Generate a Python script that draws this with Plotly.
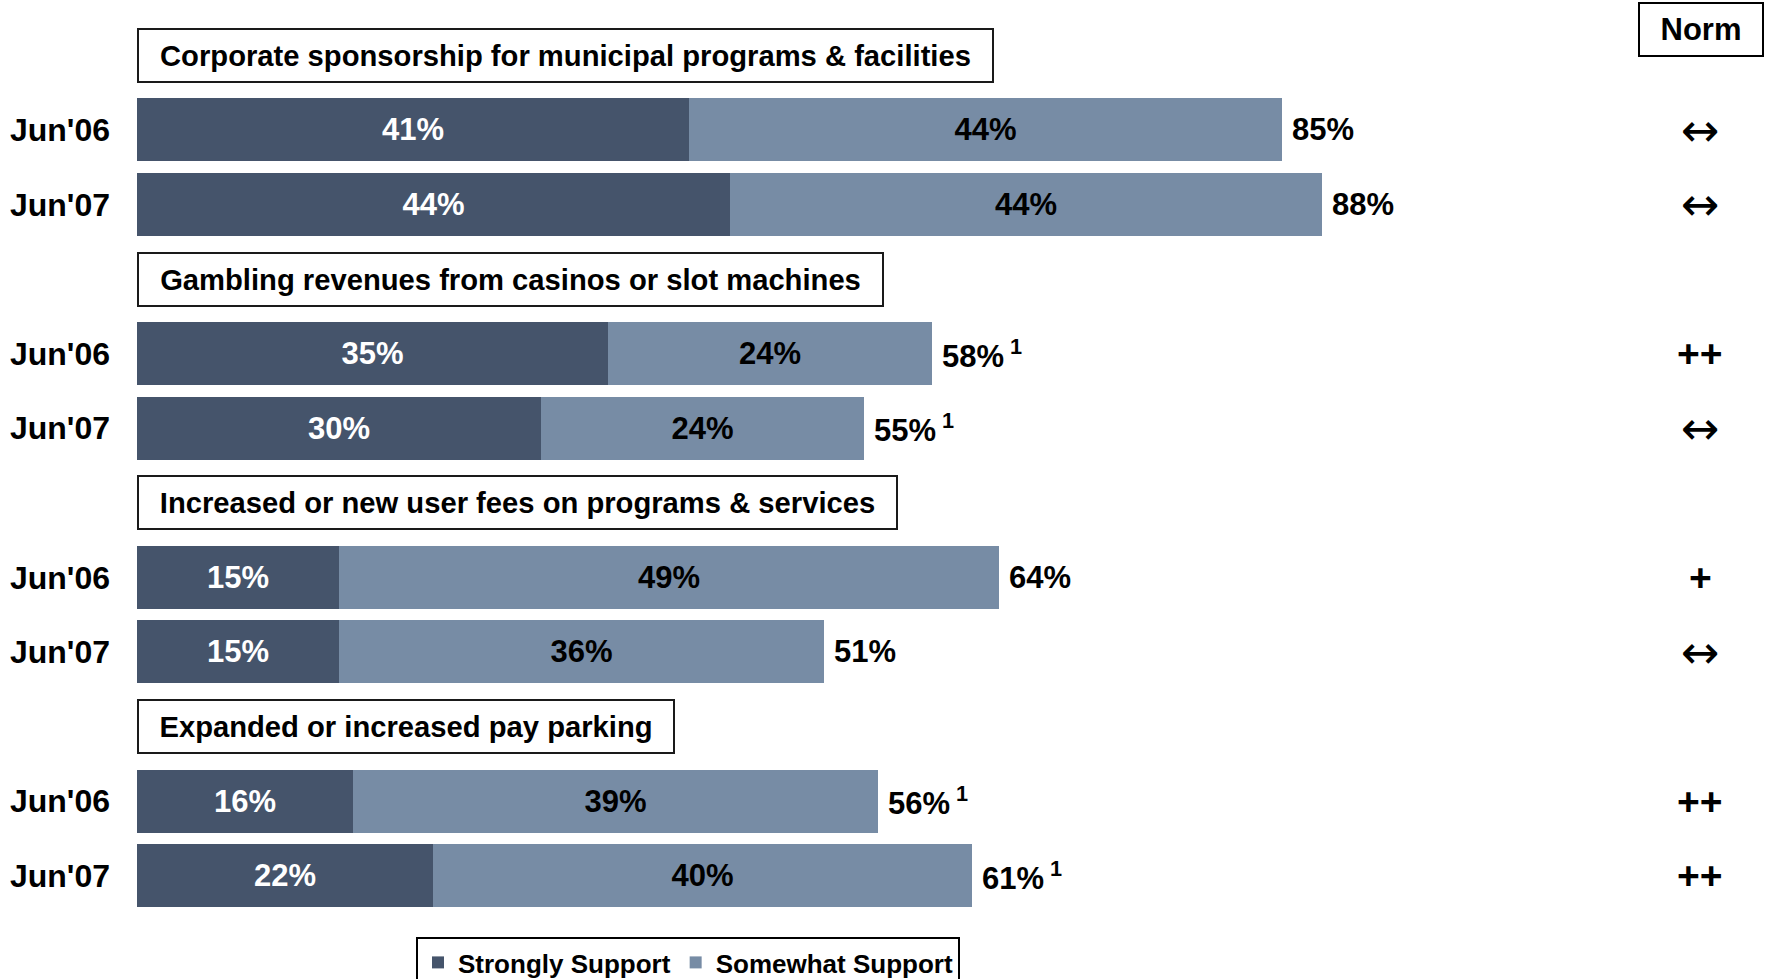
import plotly.graph_objects as go

# ---------------- data ----------------
categories = [
    "Corporate sponsorship for municipal programs & facilities",
    "Gambling revenues from casinos or slot machines",
    "Increased or new user fees on programs & services",
    "Expanded or increased pay parking",
]
periods = ["Jun'06", "Jun'07"]
strongly = [41, 44, 35, 30, 15, 15, 16, 22]
somewhat = [44, 44, 24, 24, 49, 36, 39, 40]
totals = [85, 88, 58, 55, 64, 51, 56, 61]
footnote = ["", "", "1", "1", "", "", "1", "1"]
norm = ["↔", "↔", "++", "↔", "+", "↔", "++", "++"]

# ---------------- layout constants ----------------
W, H = 1766, 979
PLOT_L, PLOT_T = 137, 18
PLOT_W, PLOT_H = W - PLOT_L, 895
PX_PER_PCT = 13.47
DARK = "#45546B"
LIGHT = "#778CA5"
FONT = "Arial, Liberation Sans, sans-serif"
BOX_W = [855, 745, 759, 536]
BOX_H = 53


def px_x(px):
    return (px - PLOT_L) / PLOT_W


def px_y(py):
    return (PLOT_T + PLOT_H - py) / PLOT_H


# slot positions: each category occupies 3 slots (title + 2 bars)
bar_y = [3 * g + 1 + j for g in range(len(categories)) for j in range(len(periods))]
tick_text = [periods[j] for g in range(len(categories)) for j in range(len(periods))]

fig = go.Figure()
fig.add_trace(go.Bar(
    name="Strongly Support", orientation="h", y=bar_y, x=strongly,
    marker=dict(color=DARK, line=dict(width=0)), width=0.845,
    text=[f"{v}%" for v in strongly], textposition="inside",
    insidetextanchor="middle", constraintext="none",
    textfont=dict(color="white", size=31, family=FONT, weight="bold"),
    hoverinfo="skip",
))
fig.add_trace(go.Bar(
    name="Somewhat Support", orientation="h", y=bar_y, x=somewhat,
    marker=dict(color=LIGHT, line=dict(width=0)), width=0.845,
    text=[f"{v}%" for v in somewhat], textposition="inside",
    insidetextanchor="middle", constraintext="none",
    textfont=dict(color="black", size=31, family=FONT, weight="bold"),
    hoverinfo="skip",
))

annotations = []
# category title boxes
for g, cat in enumerate(categories):
    annotations.append(dict(
        x=0, y=3 * g, xref="x", yref="y", xanchor="left", yanchor="middle",
        text=cat, showarrow=False, width=BOX_W[g] - 2, height=BOX_H - 2,
        borderpad=0, bordercolor="#1a1a1a", borderwidth=2, bgcolor="white",
        font=dict(size=29.2, color="black", family=FONT, weight="bold"),
    ))
# totals
for i in range(len(bar_y)):
    t = f"{totals[i]}%"
    if footnote[i]:
        t += f"<sup> {footnote[i]}</sup>"
    annotations.append(dict(
        x=strongly[i] + somewhat[i], y=bar_y[i], xref="x", yref="y",
        xanchor="left", yanchor="middle", xshift=8, text=t, showarrow=False,
        font=dict(size=31, color="black", family=FONT, weight="bold"),
    ))
# norm column
annotations.append(dict(
    x=px_x(1700.6), y=px_y(30), xref="paper", yref="paper",
    xanchor="center", yanchor="middle", text="Norm", showarrow=False,
    width=122, height=51, borderpad=0, bordercolor="black", borderwidth=2,
    bgcolor="white",
    font=dict(size=31, color="black", family=FONT, weight="bold"),
))
for i in range(len(bar_y)):
    is_arrow = norm[i] == "↔"
    annotations.append(dict(
        x=px_x(1700), y=bar_y[i], xref="paper", yref="y",
        xanchor="center", yanchor="middle", text=norm[i], showarrow=False,
        font=dict(size=46 if is_arrow else 39, color="black",
                  family="DejaVu Sans" if is_arrow else FONT,
                  weight="normal" if is_arrow else "bold"),
    ))

fig.update_layout(
    width=W, height=H, barmode="stack", bargap=0,
    paper_bgcolor="white", plot_bgcolor="white",
    margin=dict(l=PLOT_L, r=0, t=PLOT_T, b=H - PLOT_T - PLOT_H, pad=0,
                autoexpand=False),
    font=dict(family=FONT, color="black", weight="bold"),
    xaxis=dict(range=[0, PLOT_W / PX_PER_PCT], visible=False, fixedrange=True),
    yaxis=dict(range=[11.5, -0.5], tickvals=bar_y, ticktext=tick_text,
               showgrid=False, zeroline=False, showline=False, ticks="",
               ticklabelstandoff=26,
               tickfont=dict(size=32, family=FONT, color="black", weight="bold")),
    showlegend=True,
    legend=dict(orientation="h", x=px_x(688), xanchor="center",
                y=px_y(937), yanchor="top", bordercolor="black", borderwidth=2,
                bgcolor="white", traceorder="normal",
                font=dict(size=26, family=FONT, color="black", weight="bold")),
    annotations=annotations,
)

fig.write_html(
    "out.html",
    config={"displayModeBar": False},
    post_script="document.body.style.margin='0';document.body.style.overflow='hidden';",
)
